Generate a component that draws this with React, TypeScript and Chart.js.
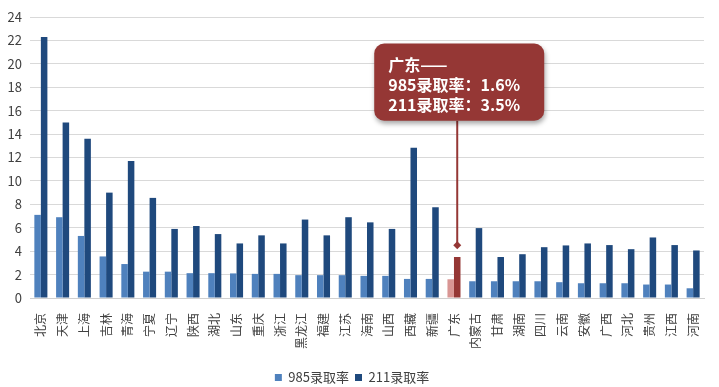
import React, { useEffect, useRef } from "react";
import { Chart, registerables } from "chart.js";

Chart.register(...registerables);

const provinces = ["北京","天津","上海","吉林","青海","宁夏","辽宁","陕西","湖北","山东","重庆","浙江","黑龙江","福建","江苏","海南","山西","西藏","新疆","广东","内蒙古","甘肃","湖南","四川","云南","安徽","广西","河北","贵州","江西","河南"];
const rate985 = [7.1, 6.9, 5.3, 3.55, 2.9, 2.25, 2.25, 2.12, 2.12, 2.1, 2.06, 2.06, 1.95, 1.95, 1.95, 1.89, 1.89, 1.63, 1.63, 1.6, 1.43, 1.43, 1.43, 1.43, 1.35, 1.26, 1.26, 1.26, 1.15, 1.15, 0.83];
const rate211 = [22.3, 15.0, 13.6, 9.0, 11.7, 8.55, 5.9, 6.15, 5.46, 4.66, 5.35, 4.66, 6.7, 5.35, 6.9, 6.46, 5.9, 12.83, 7.75, 3.5, 5.97, 3.5, 3.74, 4.34, 4.49, 4.66, 4.52, 4.17, 5.17, 4.52, 4.06];
const seriesNames = ["985录取率", "211录取率"];
const yTicks = { min: 0, max: 24, step: 2 };
const highlightIndex = 19;
const calloutTop = 21.74;
const calloutBottom = 15.14;
const calloutTip = 4.5;

const FONT = "'Noto Sans CJK SC', 'Noto Sans', sans-serif";
const BLUE_LIGHT = "#4F81BD";
const BLUE_DARK = "#1F497D";
const RED_LIGHT = "#D99694";
const RED_DARK = "#953735";
const TEXT = "#404040";

const calloutPlugin = {
  id: "callout",
  afterDatasetsDraw(chart: any) {
    const { ctx } = chart;
    const y = chart.scales.y;
    const bar = chart.getDatasetMeta(1).data[highlightIndex];
    if (!bar) return;
    const x = bar.x;
    const top = y.getPixelForValue(calloutTop);
    const bottom = y.getPixelForValue(calloutBottom);
    const tip = y.getPixelForValue(calloutTip);
    const left = x - 83;
    const right = x + 87;
    ctx.save();
    ctx.strokeStyle = RED_DARK;
    ctx.lineWidth = 2;
    ctx.beginPath();
    ctx.moveTo(x, bottom);
    ctx.lineTo(x, tip);
    ctx.stroke();
    ctx.fillStyle = RED_DARK;
    ctx.beginPath();
    ctx.moveTo(x, tip - 4);
    ctx.lineTo(x + 4, tip);
    ctx.lineTo(x, tip + 4);
    ctx.lineTo(x - 4, tip);
    ctx.closePath();
    ctx.fill();
    ctx.shadowColor = "rgba(0,0,0,0.35)";
    ctx.shadowBlur = 5;
    ctx.shadowOffsetX = 1;
    ctx.shadowOffsetY = 3;
    ctx.beginPath();
    (ctx as any).roundRect(left, top, right - left, bottom - top, 10);
    ctx.fillStyle = RED_DARK;
    ctx.fill();
    ctx.shadowColor = "transparent";
    ctx.fillStyle = "#ffffff";
    ctx.font = `bold 16px ${FONT}`;
    ctx.textBaseline = "middle";
    ctx.textAlign = "left";
    const lines = [
      `${provinces[highlightIndex]}——`,
      `${seriesNames[0]}：${rate985[highlightIndex]}%`,
      `${seriesNames[1]}：${rate211[highlightIndex]}%`,
    ];
    lines.forEach((t, i) => ctx.fillText(t, left + 14, top + 21 + i * 20));
    ctx.restore();
  },
};

export default function App() {
  const ref = useRef<HTMLCanvasElement>(null);
  useEffect(() => {
    document.body.style.margin = "0";
    const chart = new Chart(ref.current as HTMLCanvasElement, {
      type: "bar",
      data: {
        labels: provinces,
        datasets: [
          {
            label: seriesNames[0],
            data: rate985,
            backgroundColor: (c: any) => (c.dataIndex === highlightIndex ? RED_LIGHT : BLUE_LIGHT),
            categoryPercentage: 0.6,
            barPercentage: 1.0,
          },
          {
            label: seriesNames[1],
            data: rate211,
            backgroundColor: (c: any) => (c.dataIndex === highlightIndex ? RED_DARK : BLUE_DARK),
            categoryPercentage: 0.6,
            barPercentage: 1.0,
          },
        ],
      },
      options: {
        animation: false,
        responsive: false,
        events: [],
        layout: { padding: { top: 17, right: 15, left: 0, bottom: -7 } },
        plugins: {
          tooltip: { enabled: false },
          legend: {
            position: "bottom",
            labels: {
              boxWidth: 7,
              boxHeight: 7,
              padding: 6,
              color: TEXT,
              font: { family: FONT, size: 13 },
            },
          },
        },
        scales: {
          x: {
            grid: { display: false },
            border: { display: true, color: "#d0d0d0" },
            ticks: {
              autoSkip: false,
              minRotation: 90,
              maxRotation: 90,
              padding: 7,
              color: TEXT,
              font: { family: FONT, size: 12 },
            },
            afterFit: (s: any) => {
              s.height = 67;
            },
          },
          y: {
            min: yTicks.min,
            max: yTicks.max,
            ticks: {
              stepSize: yTicks.step,
              padding: 8,
              color: TEXT,
              font: { family: FONT, size: 13 },
            },
            grid: { color: "#d9d9d9", drawTicks: false },
            border: { display: false },
            afterFit: (s: any) => {
              s.width = 30;
            },
          },
        },
      },
      plugins: [calloutPlugin],
    } as any);
    return () => chart.destroy();
  }, []);
  return (
    <div style={{ width: 719, height: 387, background: "#fff" }}>
      <canvas ref={ref} width={719} height={387} />
    </div>
  );
}
